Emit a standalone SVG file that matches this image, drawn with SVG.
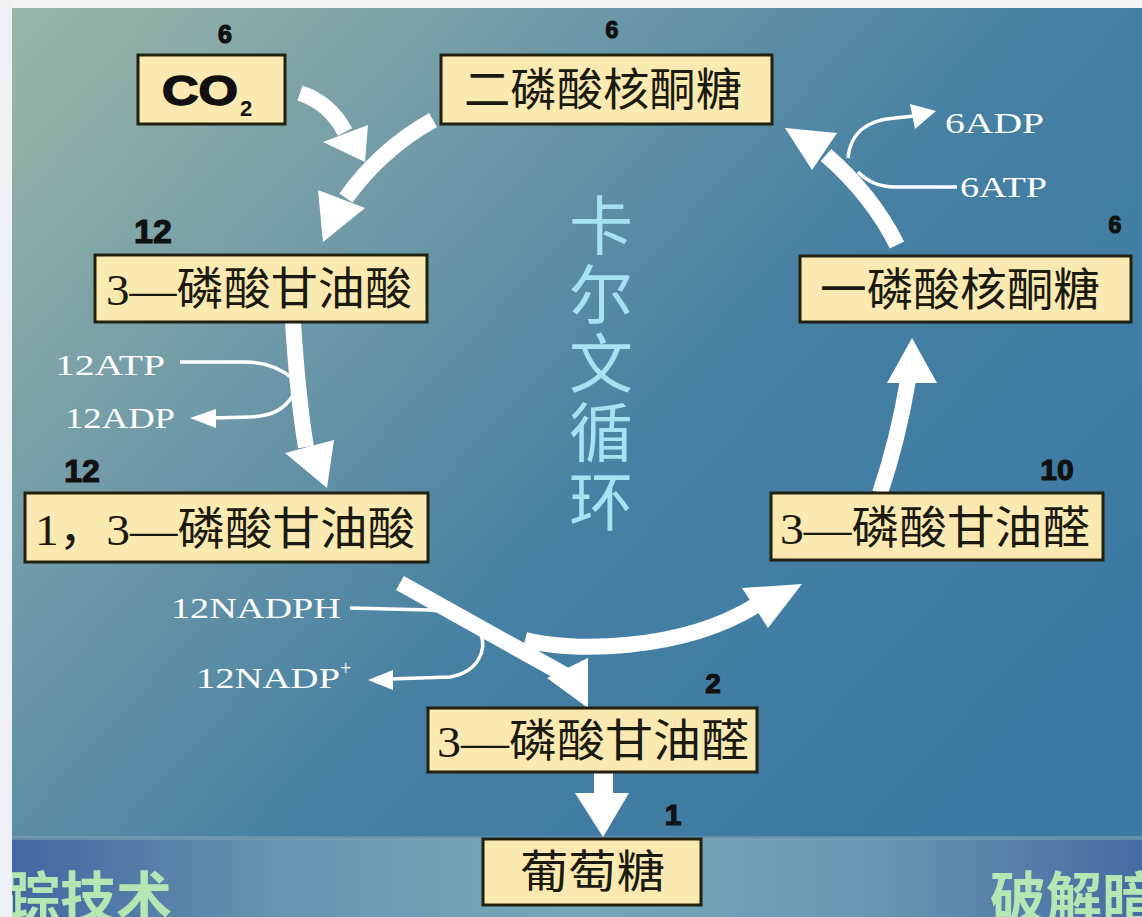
<svg xmlns="http://www.w3.org/2000/svg" width="1142" height="917" viewBox="0 0 1142 917">
<defs>
<linearGradient id="bg" x1="0" y1="0" x2="1" y2="0.75">
<stop offset="0" stop-color="#9bb8a8"/>
<stop offset="0.3" stop-color="#739ca8"/>
<stop offset="0.6" stop-color="#4680a3"/>
<stop offset="1" stop-color="#3b78a2"/>
</linearGradient>
<linearGradient id="band" x1="0" y1="0" x2="1" y2="0">
<stop offset="0" stop-color="#3f66a0"/>
<stop offset="0.25" stop-color="#6896b2"/>
<stop offset="0.5" stop-color="#78a8b8"/>
<stop offset="0.75" stop-color="#6a9ab4"/>
<stop offset="1" stop-color="#456ca2"/>
</linearGradient>
<style>
.box{fill:#fbe9b2;stroke:#22200f;stroke-width:3}
.cn{font-family:"Noto Sans CJK SC","Noto Sans CJK TC",sans-serif;font-size:45px;fill:#1a1a10}
.ser{font-family:"Liberation Serif","Times New Roman",serif}
.num{font-family:"Liberation Sans",Arial,sans-serif;font-weight:bold;fill:#111;stroke:#111;stroke-width:1.2;text-anchor:middle}
.lbl{font-family:"Liberation Serif","Times New Roman",serif;font-size:30px;fill:#ffffff}
.big{fill:none;stroke:#ffffff;stroke-width:16}
.thin{fill:none;stroke:#ffffff;stroke-width:3.5}
.head{fill:#ffffff}
.title{font-family:"Noto Sans CJK SC",sans-serif;font-size:64px;fill:#a6e2f2;writing-mode:vertical-rl;letter-spacing:5px}
.band{font-family:"Noto Sans CJK SC",sans-serif;font-weight:bold;font-size:56px;fill:#b6e6b4}
</style>
</defs>
<rect x="0" y="0" width="1142" height="917" fill="url(#bg)"/>
<rect x="0" y="838" width="1142" height="79" fill="url(#band)"/>
<rect x="0" y="836" width="1142" height="4" fill="#7aa2b0" opacity="0.6"/>
<text class="band" x="4" y="918">踪技术</text>
<text class="band" x="990" y="918">破解暗</text>
<rect x="0" y="0" width="1142" height="8" fill="#f3f4f6"/>
<rect x="0" y="0" width="12" height="917" fill="#eef0f5"/>

<g id="title">
<text class="title" x="601" y="193">卡尔文循环</text>
</g>

<g id="connectors">
<path class="big" d="M300,93 Q330,103 345,132"/>
<polygon class="head" points="323,142 368,125 365,162"/>
<path class="big" d="M433,120 Q380,150 346,198"/>
<polygon class="head" points="318,190 365,208 323,242"/>
<path class="big" d="M293,322 Q298,400 306,447"/>
<polygon class="head" points="285,453 334,440 327,488"/>
<path class="thin" d="M180,362 L245,362 C265,362 280,368 292,378"/>
<path class="thin" d="M294,394 C284,410 272,416 250,417 L212,418"/>
<polygon class="head" points="190,418 216,409 216,428"/>
<path class="big" d="M400,583 L565,675"/>
<polygon class="head" points="547,678 588,658 588,708"/>
<path class="big" d="M525,640 C570,652 680,652 755,606"/>
<polygon class="head" points="742,588 768,628 802,584"/>
<path class="thin" d="M350,608 L430,610 C445,611 455,614 468,620"/>
<path class="thin" d="M480,632 C488,650 478,672 450,677 L390,679"/>
<polygon class="head" points="368,680 393,670 393,690"/>
<path class="big" d="M880,493 Q898,440 908,380"/>
<polygon class="head" points="887,383 937,383 912,338"/>
<path class="big" d="M897,245 Q872,195 826,155"/>
<polygon class="head" points="785,128 837,133 812,170"/>
<path class="thin" d="M957,187 L895,187 C880,187 868,182 858,172"/>
<path class="thin" d="M848,158 C850,135 865,120 895,118 L914,116"/>
<polygon class="head" points="936,111 910,104 915,129"/>
<rect x="594" y="772" width="19" height="23" fill="#ffffff"/>
<polygon class="head" points="575,793 629,793 603,837"/>
</g>

<g id="labels">
<text class="lbl" x="55" y="375" textLength="110" lengthAdjust="spacingAndGlyphs">12ATP</text>
<text class="lbl" x="65" y="428" textLength="110" lengthAdjust="spacingAndGlyphs">12ADP</text>
<text class="lbl" x="171" y="618" textLength="170" lengthAdjust="spacingAndGlyphs">12NADPH</text>
<text class="lbl" x="196" y="688"><tspan textLength="144" lengthAdjust="spacingAndGlyphs">12NADP</tspan><tspan font-size="20" dy="-13">+</tspan></text>
<text class="lbl" x="945" y="133" textLength="99" lengthAdjust="spacingAndGlyphs">6ADP</text>
<text class="lbl" x="960" y="197" textLength="87" lengthAdjust="spacingAndGlyphs">6ATP</text>
</g>

<g id="node-co2">
<rect class="box" x="138" y="55" width="147" height="69"/>
<text x="162" y="105" font-family="Liberation Sans,Arial,sans-serif" font-weight="bold" font-size="42" fill="#111" stroke="#111" stroke-width="1.5" textLength="76" lengthAdjust="spacingAndGlyphs">CO</text>
<text x="240" y="116" font-family="Liberation Sans,Arial,sans-serif" font-weight="bold" font-size="22" fill="#111">2</text>
<text class="num" x="225" y="43" font-size="25">6</text>
</g>
<g id="node-rubp">
<rect class="box" x="441" y="55" width="331" height="69"/>
<text class="cn" x="464" y="106" textLength="278" lengthAdjust="spacingAndGlyphs">二磷酸核酮糖</text>
<text class="num" x="612" y="38" font-size="23">6</text>
</g>
<g id="node-3pga">
<rect class="box" x="95" y="255" width="332" height="67"/>
<text class="cn" x="106" y="305" textLength="306" lengthAdjust="spacingAndGlyphs"><tspan class="ser">3—</tspan>磷酸甘油酸</text>
<text class="num" x="153" y="243" font-size="34">12</text>
</g>
<g id="node-13bpga">
<rect class="box" x="25" y="493" width="403" height="69"/>
<text class="cn" x="35" y="545" textLength="380" lengthAdjust="spacingAndGlyphs"><tspan class="ser">1</tspan>，<tspan class="ser">3—</tspan>磷酸甘油酸</text>
<text class="num" x="82" y="482" font-size="32">12</text>
</g>
<g id="node-g3p-right">
<rect class="box" x="771" y="493" width="332" height="67"/>
<text class="cn" x="780" y="544" textLength="310" lengthAdjust="spacingAndGlyphs"><tspan class="ser">3—</tspan>磷酸甘油醛</text>
<text class="num" x="1057" y="480" font-size="30">10</text>
</g>
<g id="node-rup">
<rect class="box" x="800" y="256" width="331" height="66"/>
<text class="cn" x="820" y="306" textLength="280" lengthAdjust="spacingAndGlyphs">一磷酸核酮糖</text>
<text class="num" x="1115" y="233" font-size="23">6</text>
</g>
<g id="node-g3p-bottom">
<rect class="box" x="428" y="708" width="329" height="64"/>
<text class="cn" x="437" y="757" textLength="312" lengthAdjust="spacingAndGlyphs"><tspan class="ser">3—</tspan>磷酸甘油醛</text>
<text class="num" x="713" y="693" font-size="28">2</text>
</g>
<g id="node-glucose">
<rect class="box" x="483" y="839" width="218" height="66"/>
<text class="cn" x="520" y="888" textLength="145" lengthAdjust="spacingAndGlyphs">葡萄糖</text>
<text class="num" x="673" y="825" font-size="30">1</text>
</g>
</svg>
